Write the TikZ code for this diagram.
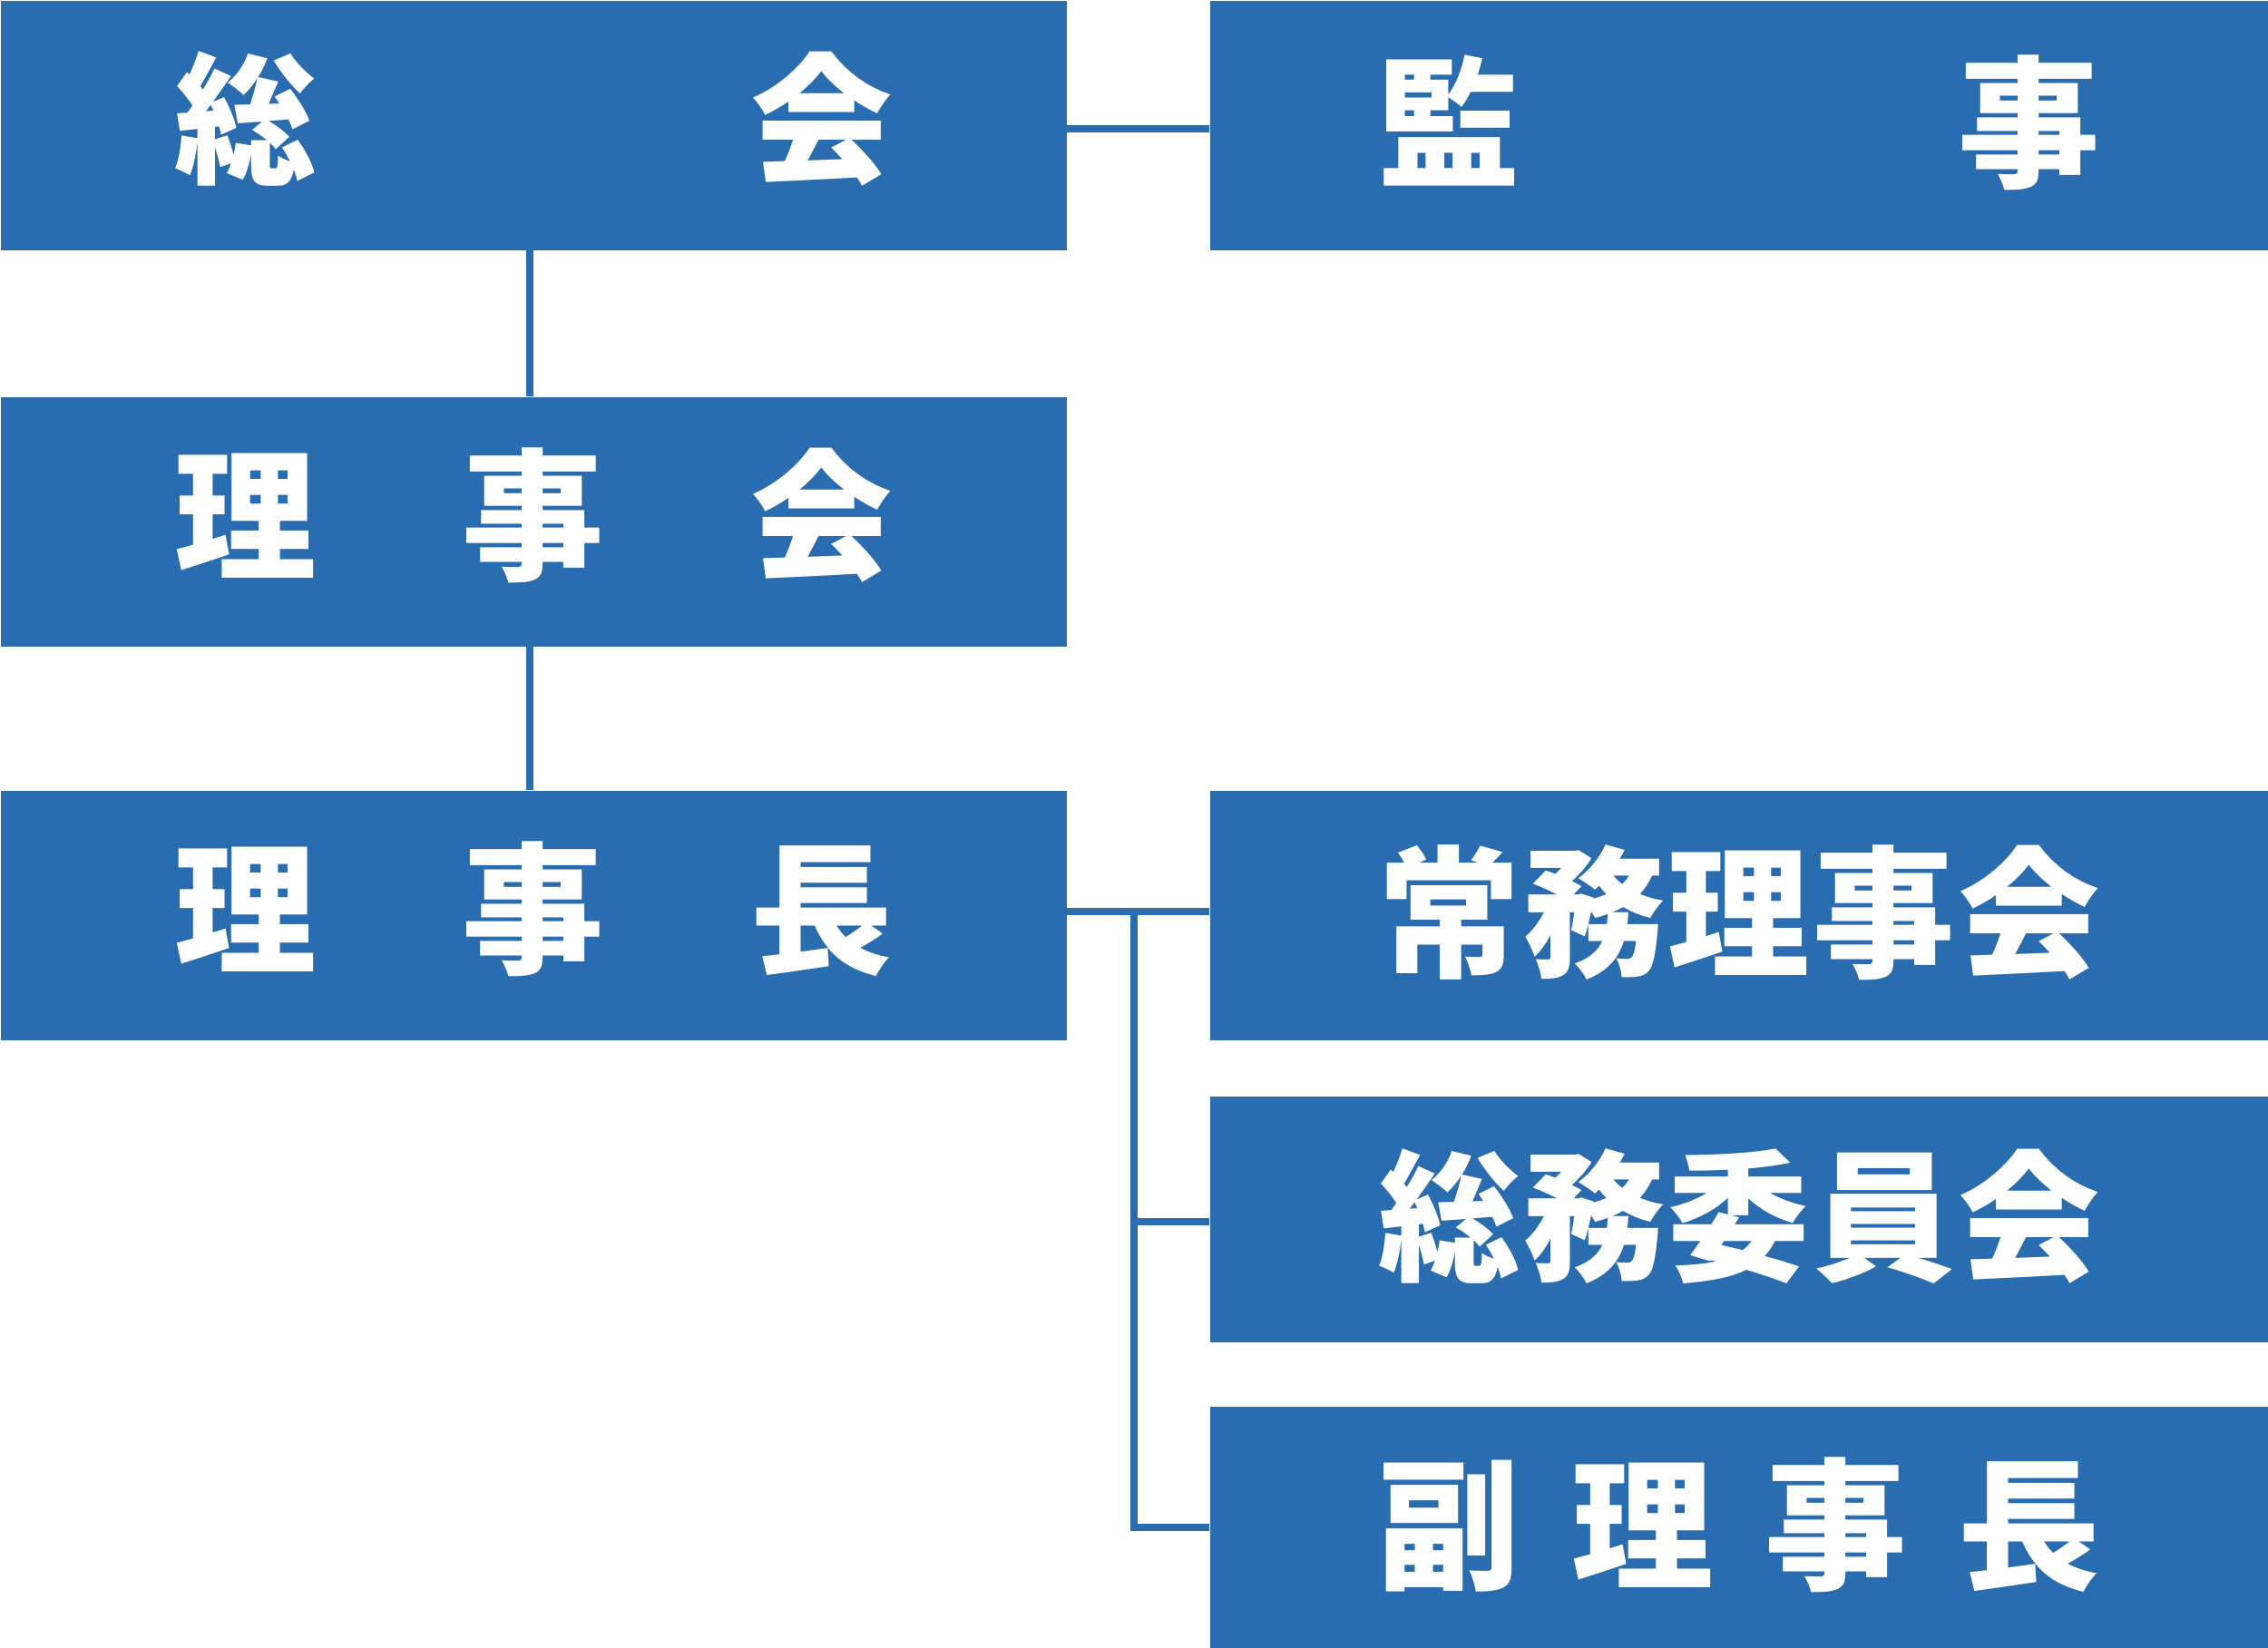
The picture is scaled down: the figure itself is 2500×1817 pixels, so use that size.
\documentclass[tikz,border=0pt]{standalone}
\usepackage{fontspec}
\newfontfamily\jpfont{Noto Sans CJK JP}
\usepackage{tikz}
\usetikzlibrary{positioning,calc}
\definecolor{orgblue}{HTML}{2A6CB0}
% characters spread over a fixed width, baseline set from the box centre
\newcommand{\lrow}[1]{\raisebox{-5.25mm}[0pt][0pt]{\makebox[79.2mm]{#1}}\hspace{1.1mm}}
\newcommand{\rrow}[1]{\raisebox{-5.65mm}[0pt][0pt]{\makebox[79.6mm]{#1}}}

\begin{document}
\begin{tikzpicture}[x=0.1mm, y=-0.1mm,
  box/.style={fill=orgblue, text=white, anchor=north west, inner sep=0pt,
    font=\jpfont\bfseries\fontsize{44.5pt}{50pt}\selectfont},
  lbox/.style={box, minimum width=117.5mm, minimum height=27.5mm},
  rbox/.style={box, minimum width=116.7mm, minimum height=27.5mm},
  link/.style={draw=orgblue, line width=0.8mm},
]
\useasboundingbox (0,0) rectangle (2500,1817);

% ---------------- left column ----------------
\node[lbox] (sokai)   at (0,0)   {\lrow{総\hfill 会}};
\node[lbox] (rijikai) at (0,437) {\lrow{理\hfill 事\hfill 会}};
\node[lbox] (richo)   at (0,871) {\lrow{理\hfill 事\hfill 長}};

% ---------------- right column ----------------
\node[rbox] (kanji)   at (1333,0)    {\rrow{監\hfill 事}};
\node[rbox] (jomu)    at (1333,871)  {\rrow{常\hfill 務\hfill 理\hfill 事\hfill 会}};
\node[rbox, minimum height=27.1mm] (somu) at (1333,1208) {\rrow{総\hfill 務\hfill 委\hfill 員\hfill 会}};
\node[rbox, minimum height=26.7mm] (fuku) at (1333,1550) {\rrow{副\hfill 理\hfill 事\hfill 長}};

% ---------------- connectors ----------------
\draw[link] ([yshift=-0.4mm]sokai.east) -- ([yshift=-0.4mm]kanji.west);
\draw[link] ([xshift=-0.45mm]sokai.south) -- ([xshift=-0.45mm]rijikai.north);
\draw[link] ([xshift=-0.45mm]rijikai.south) -- ([xshift=-0.45mm]richo.north);
\draw[link] ([yshift=0.4mm]richo.east) -- ([yshift=0.4mm]jomu.west);
\coordinate (br) at ($([yshift=0.4mm]richo.east)!0.47!([yshift=0.4mm]jomu.west)$);
\draw[link] (br) |- ([yshift=-0.25mm]somu.west);
\draw[link] (br) |- (fuku.west);
\end{tikzpicture}
\end{document}
